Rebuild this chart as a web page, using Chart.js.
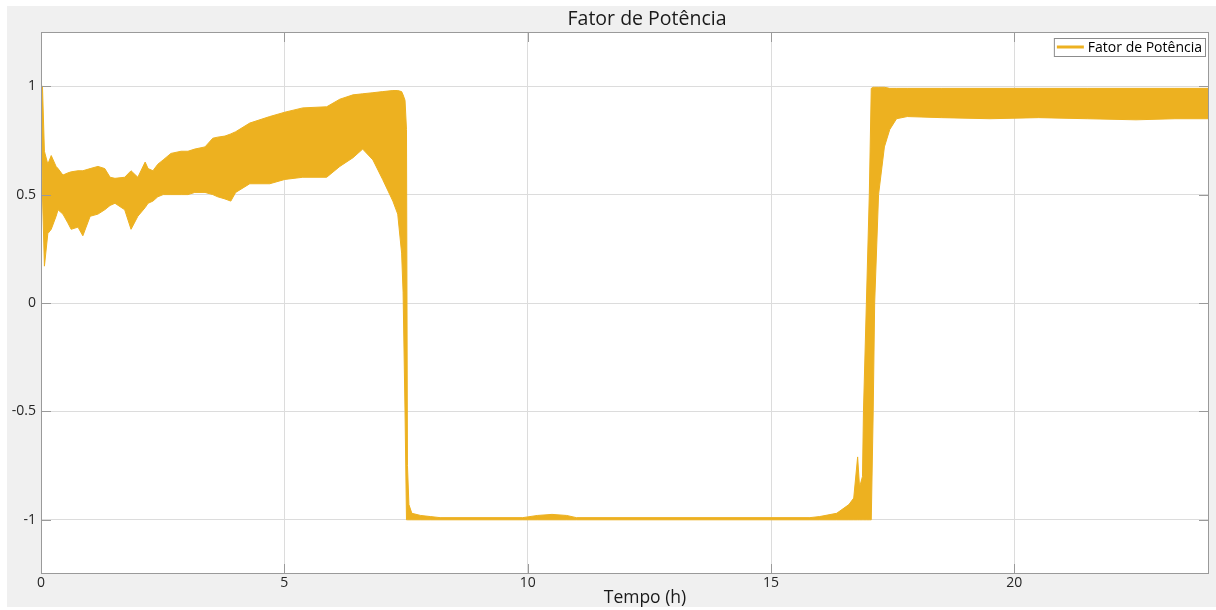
<!DOCTYPE html>
<html>
<head>
<meta charset="utf-8">
<title>Fator de Potência</title>
<script src="https://cdn.jsdelivr.net/npm/chart.js@4.4.1/dist/chart.umd.min.js"></script>
<style>
  html, body { margin: 0; padding: 0; background: #fff; overflow: hidden; }
</style>
</head>
<body>
<canvas id="chart" width="1216" height="610"></canvas>
<script>
// Envelope of the oscillating power factor signal
const hours = [
  0.00, 0.03, 0.07, 0.14, 0.21, 0.31, 0.35, 0.45, 0.55, 0.62,
  0.76, 0.86, 1.01, 1.17, 1.31, 1.42, 1.52, 1.72, 1.85, 1.99,
  2.14, 2.20, 2.30, 2.40, 2.51, 2.67, 2.88, 3.02, 3.16, 3.37,
  3.53, 3.63, 3.78, 3.90, 4.00, 4.29, 4.70, 5.01, 5.38, 5.87,
  6.14, 6.41, 6.61, 6.82, 7.02, 7.23, 7.33, 7.41, 7.44, 7.48,
  7.51, 7.53, 7.56, 7.62, 7.80, 8.00, 8.20, 9.90, 10.20, 10.50,
  10.80, 11.00, 15.80, 16.00, 16.35, 16.60, 16.70, 16.78, 16.82, 16.88,
  16.90, 16.96, 17.02, 17.06, 17.10, 17.13, 17.21, 17.33, 17.44, 17.58,
  17.80, 18.50, 19.50, 20.50, 21.50, 22.50, 23.30, 24.00
];
const upperEnv = [
  1.00, 1.00, 0.70, 0.64, 0.68, 0.63, 0.62, 0.59, 0.60, 0.605,
  0.61, 0.61, 0.62, 0.63, 0.62, 0.58, 0.575, 0.58, 0.61, 0.58,
  0.65, 0.62, 0.61, 0.64, 0.66, 0.69, 0.70, 0.70, 0.71, 0.72,
  0.76, 0.765, 0.77, 0.78, 0.79, 0.83, 0.86, 0.88, 0.90, 0.905,
  0.94, 0.96, 0.965, 0.97, 0.975, 0.98, 0.98, 0.975, 0.96, 0.935,
  0.80, -0.75, -0.93, -0.97, -0.98, -0.985, -0.99, -0.99, -0.98, -0.975,
  -0.98, -0.99, -0.99, -0.985, -0.97, -0.93, -0.90, -0.71, -0.85, -0.80,
  -0.50, 0.00, 0.50, 0.99, 0.995, 0.995, 0.995, 0.995, 0.99, 0.99,
  0.99, 0.99, 0.99, 0.99, 0.99, 0.99, 0.99, 0.99
];
const lowerEnv = [
  0.96, 0.50, 0.17, 0.32, 0.34, 0.40, 0.43, 0.41, 0.37, 0.34,
  0.35, 0.31, 0.40, 0.41, 0.43, 0.45, 0.46, 0.43, 0.34, 0.40,
  0.44, 0.46, 0.47, 0.49, 0.50, 0.50, 0.50, 0.50, 0.51, 0.51,
  0.50, 0.49, 0.48, 0.47, 0.51, 0.55, 0.55, 0.57, 0.58, 0.58,
  0.63, 0.67, 0.71, 0.66, 0.57, 0.47, 0.41, 0.23, 0.05, -0.50,
  -1.00, -1.00, -1.00, -1.00, -1.00, -1.00, -1.00, -1.00, -1.00, -1.00,
  -1.00, -1.00, -1.00, -1.00, -1.00, -1.00, -1.00, -1.00, -1.00, -1.00,
  -1.00, -1.00, -1.00, -1.00, -0.50, 0.00, 0.50, 0.72, 0.80, 0.85,
  0.86, 0.855, 0.85, 0.855, 0.85, 0.845, 0.85, 0.85
];
const xTicks = [0, 5, 10, 15, 20];
const yTicks = [-1, -0.5, 0, 0.5, 1];
const seriesLabel = 'Fator de Potência';
const chartTitle = 'Fator de Potência';
const xLabel = 'Tempo (h)';

const ORANGE = '#EDB120';
const FONT = "'Open Sans', 'Noto Sans', sans-serif";

function points(values) {
  return hours.map((h, i) => ({ x: h, y: values[i] }));
}

// MATLAB-like figure: grey figure background, boxed axes with inner ticks,
// legend inside the axes and centred labels
const matlabFrame = {
  id: 'matlabFrame',
  beforeDraw(chart) {
    const { ctx, chartArea: a } = chart;
    ctx.save();
    ctx.fillStyle = '#f0f0f0';
    ctx.fillRect(7, 6, chart.width - 7, 601);
    ctx.fillStyle = '#ffffff';
    ctx.fillRect(a.left, a.top, a.right - a.left, a.bottom - a.top);
    ctx.restore();
  },
  afterDraw(chart) {
    const { ctx, chartArea: a, scales } = chart;
    ctx.save();

    // axes box
    ctx.strokeStyle = '#9a9a9a';
    ctx.lineWidth = 1;
    ctx.strokeRect(a.left + 0.5, a.top + 0.5, a.right - a.left - 1, a.bottom - a.top - 1);

    // inner tick marks on all four sides
    const tl = 10;
    ctx.beginPath();
    for (const v of xTicks) {
      const px = Math.round(scales.x.getPixelForValue(v)) + 0.5;
      ctx.moveTo(px, a.bottom); ctx.lineTo(px, a.bottom - tl);
      ctx.moveTo(px, a.top); ctx.lineTo(px, a.top + tl);
    }
    for (const v of yTicks) {
      const py = Math.round(scales.y.getPixelForValue(v)) + 0.5;
      ctx.moveTo(a.left, py); ctx.lineTo(a.left + tl, py);
      ctx.moveTo(a.right, py); ctx.lineTo(a.right - tl, py);
    }
    ctx.stroke();

    // legend box, top right inside the axes
    ctx.font = '14px ' + FONT;
    const tw = ctx.measureText(seriesLabel).width;
    const boxW = 3 + 27 + 4 + tw + 3;
    const boxH = 18;
    const bx = a.right - 4 - boxW;
    const by = a.top + 6;
    ctx.fillStyle = '#ffffff';
    ctx.fillRect(bx, by, boxW, boxH);
    ctx.strokeStyle = '#8c8c8c';
    ctx.strokeRect(bx + 0.5, by + 0.5, boxW, boxH);
    ctx.strokeStyle = ORANGE;
    ctx.lineWidth = 3;
    ctx.beginPath();
    ctx.moveTo(bx + 3, by + boxH / 2);
    ctx.lineTo(bx + 30, by + boxH / 2);
    ctx.stroke();
    ctx.fillStyle = '#000000';
    ctx.textBaseline = 'middle';
    ctx.textAlign = 'left';
    ctx.fillText(seriesLabel, bx + 34, by + boxH / 2 + 1);

    // title and x label
    ctx.textAlign = 'center';
    ctx.fillStyle = '#1a1a1a';
    ctx.font = '19.5px ' + FONT;
    ctx.fillText(chartTitle, 647, 19);
    ctx.font = '17.5px ' + FONT;
    ctx.fillText(xLabel, 645, 598);
    ctx.restore();
  }
};

new Chart(document.getElementById('chart'), {
  type: 'line',
  data: {
    datasets: [
      {
        label: seriesLabel,
        data: points(upperEnv),
        borderColor: ORANGE,
        backgroundColor: ORANGE,
        borderWidth: 1,
        pointRadius: 0,
        tension: 0,
        fill: '+1'
      },
      {
        label: seriesLabel + ' (min)',
        data: points(lowerEnv),
        borderColor: ORANGE,
        borderWidth: 1,
        pointRadius: 0,
        tension: 0,
        fill: false
      }
    ]
  },
  options: {
    responsive: false,
    animation: false,
    devicePixelRatio: 1,
    layout: { padding: { top: 32, right: 7, left: 0, bottom: 0 } },
    plugins: {
      legend: { display: false },
      title: { display: false },
      tooltip: { enabled: false }
    },
    scales: {
      x: {
        type: 'linear',
        min: 0,
        max: 24,
        afterBuildTicks: s => { s.ticks = xTicks.map(v => ({ value: v })); },
        afterFit: s => { s.height = 36; },
        grid: { color: '#dcdcdc', drawTicks: false },
        border: { display: false },
        ticks: {
          color: '#262626',
          font: { family: FONT, size: 14 },
          padding: 1,
          maxRotation: 0,
          autoSkip: false,
          callback: v => String(v)
        }
      },
      y: {
        min: -1.25,
        max: 1.25,
        afterBuildTicks: s => { s.ticks = yTicks.map(v => ({ value: v })); },
        afterFit: s => { s.width = 41; },
        grid: { color: '#dcdcdc', drawTicks: false },
        border: { display: false },
        ticks: {
          color: '#262626',
          font: { family: FONT, size: 14 },
          padding: 5,
          autoSkip: false,
          callback: v => String(v)
        }
      }
    }
  },
  plugins: [matlabFrame]
});
</script>
</body>
</html>
